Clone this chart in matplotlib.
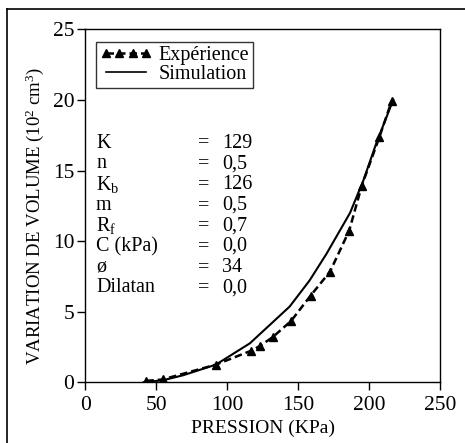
import matplotlib
matplotlib.use("Agg")
import matplotlib.pyplot as plt
from matplotlib.lines import Line2D

plt.rcParams['font.family'] = ['Liberation Serif', 'DejaVu Serif']
plt.rcParams['mathtext.fontset'] = 'custom'
plt.rcParams['mathtext.rm'] = 'Liberation Serif'
plt.rcParams['mathtext.it'] = 'Liberation Serif:italic'

# Data
exp_x = [43, 54.5, 92, 117, 123, 132, 145, 158.8, 172.5, 186, 194.8, 207.2, 215.9]
exp_y = [0.1, 0.2, 1.25, 2.24, 2.57, 3.19, 4.34, 6.14, 7.84, 10.74, 13.9, 17.35, 19.9]
sim_x = [41, 55, 69, 92, 116, 144, 158, 170, 186.6, 196, 205, 217]
sim_y = [0.0, 0.15, 0.5, 1.25, 2.76, 5.36, 7.2, 9.1, 12.0, 14.3, 16.9, 20.0]

x_ticks = [0, 50, 100, 150, 200, 250]
y_ticks = [0, 5, 10, 15, 20, 25]

param_names = ['K', 'n', r'K$_\mathrm{b}$', 'm', r'R$_\mathrm{f}$', 'C (kPa)', 'ø', 'Dilatan']
param_values = ['129', '0,5', '126', '0,5', '0,7', '0,0', '34', '0,0']

fig = plt.figure(figsize=(4.65, 4.43), dpi=100)
ax = fig.add_axes([85.3/465, 1-382.3/443, (440-85.3)/465, (382.3-29.3)/443])

ax.plot(sim_x, sim_y, color='black', lw=1.5, label='Simulation')
ax.plot(exp_x, exp_y, color='black', lw=1.8, ls=(0, (3, 1.6)), marker='^',
        markersize=6, label='Expérience')

ax.set_xlim(0, 250)
ax.set_ylim(0, 25)
ax.set_xticks(x_ticks)
ax.set_yticks(y_ticks)
ax.tick_params(direction='out', length=6, width=1, labelsize=15.5)
ax.tick_params(axis='x', pad=4)
ax.tick_params(axis='y', pad=2)
for s in ax.spines.values():
    s.set_linewidth(1)

ax.set_xlabel('PRESSION (KPa)', fontsize=14, labelpad=3)
ax.set_ylabel(r'VARIATION DE VOLUME (10$^2$ cm$^3$)', fontsize=13.5)
ax.yaxis.set_label_coords(-0.11, 0.47)

handles = [Line2D([], [], color='black', lw=1.8, ls=(0, (3, 1.6)), marker='^', markersize=6),
           Line2D([], [], color='black', lw=1.2)]
leg = ax.legend(handles, ['Expérience', 'Simulation'], loc='upper left',
                bbox_to_anchor=(0.03, 0.964), numpoints=4, fontsize=14.5,
                frameon=True, fancybox=False, edgecolor='black',
                handlelength=2.6, handletextpad=0.3, borderpad=0.2,
                labelspacing=0.0, borderaxespad=0)
leg.get_frame().set_linewidth(1)

row0 = 143
for i, (n, v) in enumerate(zip(param_names, param_values)):
    ypix = row0 + i * 20.7
    yf = 1 - ypix / 443
    fig.text(96/465, yf, n, fontsize=14.5, va='center', ha='left')
    fig.text(198/465, yf, '=', fontsize=14.5, va='center', ha='left')
    fig.text(222/465, yf, v, fontsize=14.5, va='center', ha='left')

# figure frame (top and left)
fig.add_artist(Line2D([7/465, 7/465], [0, 1-9/443], color='black', lw=1.2, transform=fig.transFigure))
fig.add_artist(Line2D([7/465, 1], [1-9/443, 1-9/443], color='black', lw=1.2, transform=fig.transFigure))

fig.savefig('out.png', dpi=100)
